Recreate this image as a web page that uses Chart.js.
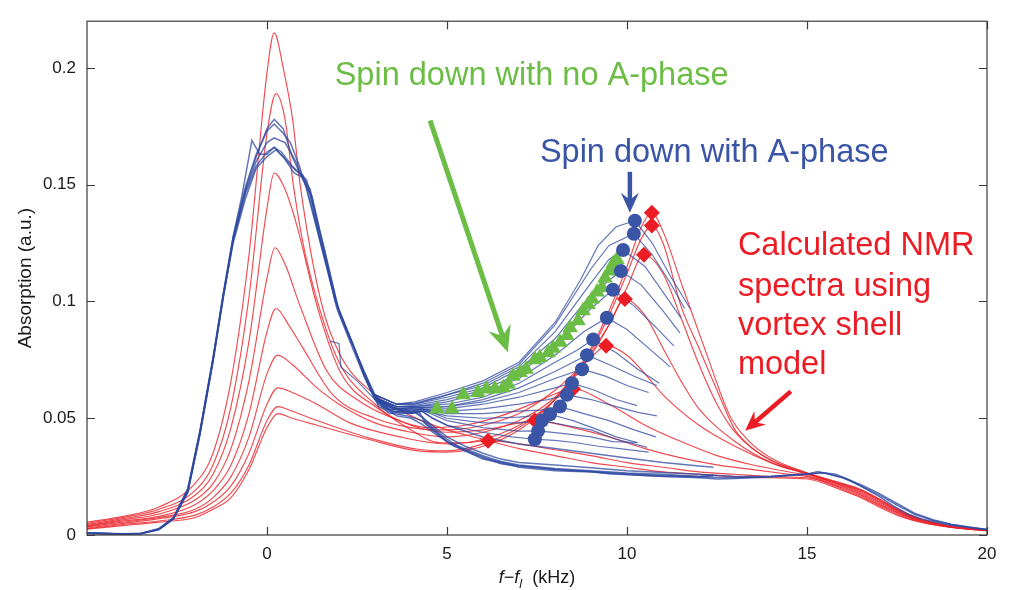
<!DOCTYPE html>
<html>
<head>
<meta charset="utf-8">
<script src="https://cdn.jsdelivr.net/npm/chart.js@4.4.1/dist/chart.umd.min.js"></script>
<style>
  html, body { margin: 0; padding: 0; background: #fff; }
  canvas { display: block; }
</style>
</head>
<body>
<canvas id="nmr" width="1009" height="590"></canvas>
<script>
(function () {
    "use strict";

    const FONT = '"Liberation Sans", Arial, Helvetica, sans-serif';

    // axis ticks
    const xTicks = [0, 5, 10, 15, 20];
    const yTicks = [0, 0.05, 0.1, 0.15, 0.2];
    const yTickLabels = ['0', '0.05', '0.1', '0.15', '0.2'];

    // calculated spectra (vortex shell model), [f-fl kHz, absorption]
    const calcSpectra = [
        [[-5,0.0055],[-4,0.008],[-3,0.012],[-2,0.022],[-1.5,0.035],[-1,0.066],[-0.5,0.12],[0,0.198],[0.2,0.215],[0.45,0.2],[0.72,0.177],[0.92,0.15],[1.5,0.1],[2,0.078],[3,0.06],[4,0.051],[5,0.045],[6,0.041],[7,0.037],[8,0.034],[9,0.031],[10,0.029],[11,0.027],[12,0.026],[13,0.025],[14,0.0245],[15,0.024],[16,0.019],[16.5,0.016],[17,0.012],[17.5,0.0085],[18,0.006],[19,0.0032],[20,0.0018]],
        [[-5,0.005],[-4,0.0075],[-3,0.011],[-2,0.019],[-1.5,0.03],[-1,0.055],[-0.5,0.102],[0,0.172],[0.25,0.189],[0.5,0.178],[0.73,0.15],[1,0.125],[1.4,0.1],[2,0.074],[3,0.056],[4,0.045],[4.8,0.0395],[5.5,0.0395],[6.14,0.0404],[7,0.039],[8,0.0365],[9,0.034],[10,0.031],[11,0.029],[12,0.027],[13,0.026],[14,0.025],[15,0.0245],[16,0.0195],[16.5,0.0165],[17,0.0125],[17.5,0.009],[18,0.0062],[19,0.0033],[20,0.0019]],
        [[-5,0.0045],[-4,0.007],[-3,0.01],[-2,0.017],[-1.5,0.026],[-1,0.046],[-0.5,0.083],[0,0.14],[0.2,0.155],[0.5,0.148],[0.83,0.1325],[1.39,0.098],[2.03,0.07],[3,0.055],[4,0.047],[5,0.044],[6,0.045],[7,0.048],[7.44,0.049],[8.5,0.046],[9.5,0.042],[10.5,0.037],[11.5,0.033],[12.5,0.03],[13.5,0.028],[14.5,0.026],[15,0.025],[16,0.02],[16.5,0.017],[17,0.013],[17.5,0.0095],[18,0.0065],[19,0.0034],[20,0.002]],
        [[-5,0.004],[-4,0.0065],[-3,0.009],[-2,0.015],[-1.5,0.022],[-1,0.037],[-0.5,0.066],[0,0.11],[0.22,0.123],[0.5,0.116],[0.92,0.098],[1.67,0.07],[2.5,0.058],[3.5,0.05],[4.5,0.046],[5.5,0.047],[6.5,0.051],[7.5,0.057],[8.5,0.0625],[9.5,0.056],[10.5,0.047],[11.5,0.04],[12.5,0.034],[13.5,0.03],[14.5,0.027],[15,0.0255],[16,0.0205],[16.5,0.0175],[17,0.0135],[17.5,0.0098],[18,0.0068],[19,0.0035],[20,0.002]],
        [[-5,0.0038],[-4,0.006],[-3,0.008],[-2,0.013],[-1.5,0.019],[-1,0.03],[-0.5,0.052],[0,0.087],[0.25,0.097],[0.6,0.09],[1,0.08],[1.83,0.06],[3,0.05],[4,0.046],[5,0.045],[6,0.047],[7,0.052],[8,0.062],[9,0.076],[9.42,0.081],[10,0.077],[10.5,0.069],[11,0.06],[12,0.047],[13,0.038],[14,0.031],[15,0.026],[16,0.021],[16.5,0.018],[17,0.014],[17.5,0.0102],[18,0.007],[19,0.0035],[20,0.002]],
        [[-5,0.0035],[-4,0.0055],[-3,0.0075],[-2,0.011],[-1.5,0.016],[-1,0.025],[-0.5,0.042],[0,0.069],[0.3,0.077],[0.7,0.073],[1.39,0.063],[2,0.056],[3,0.048],[4,0.044],[5,0.042],[6,0.044],[7,0.049],[8,0.059],[9,0.078],[9.5,0.09],[9.94,0.101],[10.5,0.094],[11,0.08],[11.5,0.066],[12,0.054],[13,0.04],[14,0.031],[15,0.0262],[16,0.0212],[16.5,0.0185],[17,0.0145],[17.5,0.0105],[18,0.0072],[19,0.0036],[20,0.0021]],
        [[-5,0.003],[-4,0.005],[-3,0.007],[-2,0.01],[-1.5,0.014],[-1,0.021],[-0.5,0.035],[0,0.056],[0.3,0.063],[0.7,0.061],[1.39,0.056],[2.3,0.048],[3.7,0.042],[5,0.039],[6,0.041],[7,0.047],[8,0.058],[9,0.077],[9.5,0.09],[10,0.106],[10.47,0.12],[11,0.112],[11.5,0.093],[12,0.073],[12.5,0.056],[13,0.044],[14,0.032],[15,0.0264],[16,0.0215],[16.5,0.019],[17,0.015],[17.5,0.0108],[18,0.0074],[19,0.0036],[20,0.0021]],
        [[-5,0.0027],[-4,0.0045],[-3,0.006],[-2,0.0085],[-1.5,0.012],[-1,0.018],[-0.5,0.03],[0,0.049],[0.3,0.055],[0.7,0.053],[1.39,0.049],[2.8,0.0417],[4.2,0.0367],[5,0.036],[6,0.039],[7,0.046],[8,0.058],[9,0.079],[9.5,0.094],[10,0.112],[10.4,0.127],[10.69,0.1325],[11,0.125],[11.5,0.098],[12,0.08],[12.5,0.062],[13,0.045],[13.5,0.037],[14,0.032],[15,0.0265],[16,0.0218],[16.5,0.0192],[17,0.0152],[17.5,0.011],[18,0.0075],[19,0.0037],[20,0.0022]],
        [[-5,0.0025],[-4,0.004],[-3,0.0055],[-2,0.0075],[-1.5,0.011],[-1,0.016],[-0.5,0.028],[0,0.046],[0.3,0.052],[0.7,0.05],[1.39,0.047],[2.8,0.041],[4.2,0.036],[5,0.0355],[6,0.038],[7,0.045],[8,0.058],[9,0.08],[9.5,0.096],[10,0.115],[10.4,0.132],[10.69,0.138],[11,0.13],[11.55,0.106],[12.2,0.078],[12.86,0.051],[13.4,0.04],[14,0.033],[15,0.0266],[16,0.022],[16.5,0.0195],[17,0.0155],[17.5,0.0112],[18,0.0077],[19,0.0038],[20,0.0022]]
    ];

    // measured spectra, whole sweep
    const measuredFull = [
        [[-5,0.0008],[-4.5,0.0006],[-4,0.0004],[-3.5,0.0006],[-3,0.0025],[-2.6,0.007],[-2.2,0.019],[-1.86,0.044],[-1.5,0.075],[-1.22,0.102],[-0.94,0.127],[-0.6,0.148],[-0.3,0.162],[0,0.174],[0.2,0.178],[0.45,0.174],[0.7,0.162],[1,0.152],[1.2,0.146],[1.45,0.128],[1.94,0.099],[2.3,0.085],[2.67,0.071],[2.94,0.061],[3.1,0.056],[3.4,0.052],[3.9,0.0535],[4.2,0.0535],[4.4,0.048],[5.08,0.039],[6,0.0335],[6.5,0.0305],[7,0.0295],[7.5,0.029],[8,0.028],[8.5,0.0275],[9,0.0272],[9.5,0.0262],[10,0.026],[10.5,0.0255],[11,0.025],[11.5,0.0248],[12,0.0245],[12.5,0.024],[13,0.0242],[13.5,0.0245],[14,0.0248],[14.5,0.0255],[15,0.026],[15.4,0.0268],[15.8,0.026],[16.2,0.0235],[16.6,0.02],[17,0.0165],[17.4,0.0125],[17.8,0.009],[18.2,0.0068],[18.6,0.0055],[19,0.0042],[19.5,0.0032],[20,0.0022]],
        [[-5,0.001],[-4.5,0.0007],[-4,0.0005],[-3.5,0.0007],[-3,0.0028],[-2.6,0.0075],[-2.2,0.02],[-1.86,0.045],[-1.5,0.076],[-1.22,0.103],[-0.94,0.128],[-0.7,0.145],[-0.42,0.169],[-0.2,0.163],[0,0.163],[0.2,0.166],[0.45,0.162],[0.75,0.155],[1,0.153],[1.2,0.148],[1.5,0.127],[1.94,0.097],[2.3,0.083],[2.67,0.069],[2.94,0.06],[3.1,0.055],[3.5,0.052],[3.9,0.051],[4.3,0.049],[4.6,0.045],[5,0.04],[5.5,0.037],[6,0.034],[6.5,0.0315],[7,0.03],[8,0.0285],[9,0.0275],[10,0.0265],[11,0.026],[12,0.025],[12.4,0.0255]],
        [[-5,0.0006],[-4.5,0.0005],[-4,0.0003],[-3.5,0.0005],[-3,0.0022],[-2.6,0.0068],[-2.2,0.018],[-1.86,0.043],[-1.5,0.074],[-1.22,0.101],[-0.94,0.126],[-0.6,0.146],[-0.3,0.158],[0,0.164],[0.2,0.166],[0.4,0.164],[0.7,0.158],[0.9,0.155],[1.1,0.152],[1.3,0.14],[1.6,0.122],[2,0.095],[2.4,0.081],[2.7,0.068],[3,0.058],[3.3,0.054],[3.7,0.052],[4.1,0.0525],[4.3,0.0505],[4.6,0.046],[5,0.041],[5.5,0.036],[6,0.0325],[7,0.029],[8,0.0275],[9,0.027],[10,0.0258],[11,0.0252],[12,0.0248],[13,0.0245],[14,0.025],[15,0.0262],[15.5,0.0265],[16,0.0245],[16.5,0.021],[17,0.0172],[17.5,0.0128],[18,0.0088],[18.5,0.0062],[19,0.0045],[19.5,0.0033],[20,0.0023]],
        [[-5,0.0009],[-4.5,0.0006],[-4,0.0004],[-3.5,0.0006],[-3,0.0026],[-2.6,0.0072],[-2.2,0.0195],[-1.86,0.0445],[-1.5,0.0755],[-1.22,0.1025],[-0.94,0.1275],[-0.6,0.149],[-0.3,0.163],[0,0.173],[0.2,0.176],[0.45,0.172],[0.65,0.168],[0.9,0.158],[1.1,0.148],[1.4,0.13],[1.9,0.1],[2.3,0.085],[2.6,0.073],[2.9,0.062],[3.2,0.055],[3.5,0.053],[4,0.052],[4.3,0.053],[4.6,0.05],[5,0.047],[6,0.042],[7,0.039],[8,0.037],[9,0.035],[10,0.033],[11,0.031],[12,0.0295],[12.4,0.029]],
        [[-5,0.0007],[-4.5,0.0005],[-4,0.0004],[-3.5,0.0006],[-3,0.0024],[-2.6,0.007],[-2.2,0.0185],[-1.86,0.0435],[-1.5,0.0745],[-1.22,0.1015],[-0.94,0.1265],[-0.6,0.147],[-0.3,0.16],[0,0.168],[0.2,0.17],[0.5,0.168],[0.8,0.16],[1.1,0.149],[1.4,0.131],[1.9,0.1],[2.3,0.084],[2.7,0.07],[3,0.06],[3.3,0.055],[3.8,0.054],[4.2,0.052],[4.5,0.048],[5,0.042],[5.5,0.038],[6,0.035],[6.5,0.0325],[7,0.031],[8,0.03],[9,0.0288],[10,0.0275],[11,0.0268],[12,0.026],[13,0.025],[14,0.0252],[15,0.026],[15.3,0.0272],[16,0.0245],[16.5,0.0215],[17,0.0178],[17.5,0.0135],[18,0.0092],[18.5,0.0065],[19,0.0046],[19.5,0.0034],[20,0.0024]],
        [[-5,0.0008],[-4.5,0.0006],[-4,0.0004],[-3.5,0.0006],[-3,0.0025],[-2.6,0.0071],[-2.2,0.019],[-1.86,0.044],[-1.5,0.075],[-1.22,0.102],[-0.94,0.125],[-0.6,0.144],[-0.3,0.157],[0,0.162],[0.25,0.165],[0.5,0.161],[0.8,0.156],[1,0.154],[1.25,0.145],[1.55,0.125],[2,0.096],[2.35,0.083],[2.7,0.069],[3,0.059],[3.3,0.0545],[3.6,0.051],[4,0.05],[4.3,0.0475],[4.7,0.043],[5.2,0.038],[6,0.033],[7,0.0295],[8,0.028],[9,0.0272],[10,0.0262],[11,0.0255],[12,0.025],[12.4,0.0255]]
    ];

    // measured spectra during spin down with A-phase (second-peak part)
    const measuredSpinDown = [
        [[1.75,0.083],[2,0.082],[2.05,0.072],[2.5,0.066],[3,0.058],[3.4,0.054],[4,0.0525],[4.3,0.053],[4.6,0.05],[5,0.047],[6,0.044],[6.8,0.042],[7.44,0.041],[8,0.0405],[8.6,0.0395],[9.2,0.038],[9.8,0.037],[10.6,0.0355]],
        [[3,0.058],[3.5,0.053],[4,0.052],[4.3,0.0535],[5,0.049],[6,0.046],[7,0.0445],[7.53,0.0446],[8.2,0.0435],[9,0.042],[9.6,0.04],[10.3,0.0396]],
        [[3,0.059],[3.5,0.054],[4,0.053],[4.3,0.054],[5,0.05],[6,0.048],[7,0.048],[7.64,0.049],[8.3,0.047],[9,0.045],[9.7,0.041],[10.56,0.0375]],
        [[3,0.059],[3.5,0.054],[4,0.0525],[4.4,0.053],[5,0.051],[6,0.05],[7,0.0505],[7.86,0.0517],[8.5,0.049],[9.2,0.045],[9.7,0.042],[10.28,0.0396]],
        [[3,0.058],[3.5,0.054],[4,0.053],[4.3,0.054],[5,0.052],[6,0.052],[7,0.053],[7.6,0.0535],[8.14,0.055],[8.8,0.052],[9.5,0.049],[10.2,0.045],[10.8,0.042]],
        [[3,0.059],[3.6,0.054],[4.1,0.054],[5,0.053],[6,0.054],[7,0.056],[7.8,0.058],[8.33,0.06],[9,0.058],[9.7,0.055],[10.3,0.0525],[10.83,0.051]],
        [[3,0.058],[3.6,0.054],[4.1,0.054],[5,0.054],[6,0.056],[7,0.059],[8,0.063],[8.47,0.065],[9.1,0.062],[9.7,0.058],[10.28,0.0554]],
        [[3,0.058],[3.6,0.054],[4.1,0.0545],[5,0.055],[6,0.057],[7,0.061],[8,0.067],[8.75,0.071],[9.4,0.068],[10,0.064],[10.6,0.061]],
        [[3,0.058],[3.6,0.055],[4.1,0.0545],[5,0.055],[6,0.058],[7,0.063],[8,0.07],[8.5,0.074],[8.89,0.077],[9.5,0.073],[10.2,0.068],[10.83,0.064]],
        [[3,0.059],[3.6,0.055],[4.1,0.055],[5,0.056],[6,0.059],[7,0.065],[8,0.074],[8.6,0.079],[9.06,0.0837],[9.7,0.078],[10.3,0.071],[10.9,0.065]],
        [[3,0.059],[3.6,0.055],[4.1,0.055],[5,0.057],[6,0.061],[7,0.067],[8,0.077],[8.8,0.087],[9.44,0.093],[10,0.088],[10.6,0.08],[11.2,0.072]],
        [[3,0.059],[3.6,0.055],[4.1,0.0555],[5,0.058],[6,0.062],[7,0.069],[8,0.081],[9,0.097],[9.61,0.105],[10.2,0.098],[10.8,0.089],[11.3,0.081]],
        [[3,0.06],[3.6,0.056],[4.1,0.056],[5,0.059],[6,0.063],[7,0.071],[8,0.084],[9,0.103],[9.83,0.113],[10.4,0.107],[11,0.096],[11.47,0.0865]],
        [[3,0.06],[3.6,0.056],[4.1,0.056],[5,0.06],[6,0.064],[7,0.072],[8,0.087],[9,0.108],[9.5,0.118],[9.89,0.122],[10.5,0.115],[11,0.104],[11.5,0.093]],
        [[3,0.06],[3.6,0.056],[4.1,0.0565],[5,0.06],[6,0.065],[7,0.073],[8,0.09],[9,0.114],[9.5,0.124],[10.19,0.129],[10.7,0.12],[11.2,0.108],[11.6,0.097]],
        [[3,0.06],[3.6,0.056],[4.1,0.057],[5,0.061],[6,0.066],[7,0.074],[8,0.091],[8.7,0.109],[9.2,0.124],[9.7,0.132],[10.22,0.1346],[10.7,0.125],[11.2,0.111],[11.75,0.097]]
    ];

    // peak markers
    const peaksWithAPhase = [[7.44,0.041],[7.53,0.0446],[7.64,0.049],[7.86,0.0517],[8.14,0.055],[8.33,0.06],[8.47,0.065],[8.75,0.071],[8.89,0.077],[9.06,0.0837],[9.44,0.093],[9.61,0.105],[9.83,0.113],[9.89,0.122],[10.19,0.129],[10.22,0.1346]];
    const peaksCalculated = [[6.14,0.0404],[7.44,0.049],[8.5,0.0625],[9.42,0.081],[9.94,0.101],[10.47,0.12],[10.69,0.1325],[10.69,0.138]];
    const peaksNoAPhase = [[4.72,0.054],[5.14,0.054],[5.45,0.06],[5.86,0.061],[6.1,0.0625],[6.33,0.0625],[6.56,0.063],[6.7,0.0646],[6.83,0.068],[7.03,0.0696],[7.2,0.071],[7.44,0.075],[7.58,0.076],[7.81,0.078],[7.95,0.08],[8.14,0.0825],[8.33,0.0854],[8.42,0.0887],[8.64,0.0917],[8.78,0.096],[8.92,0.0987],[9.03,0.101],[9.17,0.104],[9.3,0.106],[9.39,0.11],[9.53,0.113],[9.61,0.116],[9.72,0.118]];

    const colors = {
        red: 'rgba(236,34,42,0.82)',
        redMark: '#ec1c24',
        blue: 'rgba(45,72,160,0.75)',
        blueMark: '#3a55a5',
        green: '#6bbd45'
    };

    function toXY(pairs) {
        return pairs.map(p => ({ x: p[0], y: p[1] }));
    }

    const datasets = [];
    datasets.push({ data: toXY(peaksWithAPhase), showLine: false, pointStyle: 'circle', pointRadius: 7, backgroundColor: colors.blueMark, borderWidth: 0, order: 0 });
    datasets.push({ data: toXY(peaksCalculated), showLine: false, pointStyle: 'rectRot', pointRadius: 8, backgroundColor: colors.redMark, borderWidth: 0, order: 0 });
    datasets.push({ data: toXY(peaksNoAPhase), showLine: false, pointStyle: 'triangle', pointRadius: 9, backgroundColor: colors.green, borderWidth: 0, order: 0 });
    measuredSpinDown.forEach(s => {
        datasets.push({ data: toXY(s), showLine: true, pointRadius: 0, borderColor: colors.blue, borderWidth: 1.2, tension: 0, order: 1 });
    });
    measuredFull.forEach(s => {
        datasets.push({ data: toXY(s), showLine: true, pointRadius: 0, borderColor: colors.blue, borderWidth: 1.5, tension: 0, order: 1 });
    });
    calcSpectra.forEach(s => {
        datasets.push({ data: toXY(s), showLine: true, pointRadius: 0, borderColor: colors.red, borderWidth: 1.15, cubicInterpolationMode: 'monotone', order: 2 });
    });

    // annotation texts and arrows, in data units
    const labels = [
        { text: 'Spin down with no A-phase', x: 1.88, y: 0.1925, color: colors.green },
        { text: 'Spin down with A-phase', x: 7.58, y: 0.1598, color: colors.blueMark },
        { text: 'Calculated NMR', x: 13.08, y: 0.12, color: colors.redMark },
        { text: 'spectra using', x: 13.08, y: 0.1025, color: colors.redMark },
        { text: 'vortex shell', x: 13.08, y: 0.0858, color: colors.redMark },
        { text: 'model', x: 13.08, y: 0.0688, color: colors.redMark }
    ];
    const arrows = [
        { from: [4.53, 0.1775], to: [6.69, 0.0783], color: colors.green, width: 5, head: 26 },
        { from: [10.08, 0.1555], to: [10.08, 0.138], color: colors.blueMark, width: 4.5, head: 20 },
        { from: [14.55, 0.0615], to: [13.28, 0.0446], color: colors.redMark, width: 4.5, head: 20 }
    ];

    function drawArrow(ctx, x0, y0, x1, y1, color, width, head) {
        const len = Math.hypot(x1 - x0, y1 - y0);
        const ux = (x1 - x0) / len, uy = (y1 - y0) / len;
        const nx = -uy, ny = ux;
        const bx = x1 - ux * head, by = y1 - uy * head;
        ctx.save();
        ctx.strokeStyle = color;
        ctx.fillStyle = color;
        ctx.lineWidth = width;
        ctx.beginPath();
        ctx.moveTo(x0, y0);
        ctx.lineTo(x1 - ux * head * 0.6, y1 - uy * head * 0.6);
        ctx.stroke();
        ctx.beginPath();
        ctx.moveTo(x1, y1);
        ctx.lineTo(bx + nx * head * 0.45, by + ny * head * 0.45);
        ctx.lineTo(x1 - ux * head * 0.65, y1 - uy * head * 0.65);
        ctx.lineTo(bx - nx * head * 0.45, by - ny * head * 0.45);
        ctx.closePath();
        ctx.fill();
        ctx.restore();
    }

    const decorations = {
        id: 'decorations',
        afterDatasetsDraw(chart) {
            const ctx = chart.ctx;
            const a = chart.chartArea;
            const xs = chart.scales.x, ys = chart.scales.y;

            // frame with inward ticks
            ctx.save();
            ctx.strokeStyle = '#3a3a3a';
            ctx.lineWidth = 1.2;
            ctx.strokeRect(a.left, a.top, a.right - a.left, a.bottom - a.top);
            ctx.beginPath();
            xTicks.forEach(v => {
                const px = Math.round(xs.getPixelForValue(v)) + 0.5;
                ctx.moveTo(px, a.bottom); ctx.lineTo(px, a.bottom - 8);
                ctx.moveTo(px, a.top); ctx.lineTo(px, a.top + 8);
            });
            yTicks.forEach(v => {
                const py = Math.round(ys.getPixelForValue(v)) + 0.5;
                ctx.moveTo(a.left, py); ctx.lineTo(a.left + 8, py);
                ctx.moveTo(a.right, py); ctx.lineTo(a.right - 8, py);
            });
            ctx.stroke();
            ctx.restore();

            // axis titles
            ctx.save();
            ctx.fillStyle = '#1a1a1a';
            ctx.font = '19px ' + FONT;
            ctx.textAlign = 'center';
            ctx.textBaseline = 'middle';
            ctx.translate(26, (a.top + a.bottom) / 2);
            ctx.rotate(-Math.PI / 2);
            ctx.fillText('Absorption (a.u.)', 0, 0);
            ctx.restore();

            ctx.save();
            ctx.fillStyle = '#1a1a1a';
            ctx.textBaseline = 'alphabetic';
            const parts = [
                { t: 'f', f: 'italic 18px ' + FONT, dy: 0 },
                { t: '\u2212', f: '18px ' + FONT, dy: 0 },
                { t: 'f', f: 'italic 18px ' + FONT, dy: 0 },
                { t: 'l', f: 'italic 13px ' + FONT, dy: 5 },
                { t: '  (kHz)', f: '18px ' + FONT, dy: 0 }
            ];
            let total = 0;
            parts.forEach(p => { ctx.font = p.f; p.w = ctx.measureText(p.t).width; total += p.w; });
            let cx = (a.left + a.right) / 2 - total / 2;
            parts.forEach(p => { ctx.font = p.f; ctx.fillText(p.t, cx, 583 + p.dy); cx += p.w; });
            ctx.restore();

            // annotations
            ctx.save();
            ctx.font = '32.5px ' + FONT;
            ctx.textAlign = 'left';
            ctx.textBaseline = 'alphabetic';
            labels.forEach(l => {
                ctx.fillStyle = l.color;
                ctx.fillText(l.text, xs.getPixelForValue(l.x), ys.getPixelForValue(l.y));
            });
            ctx.restore();
            arrows.forEach(ar => {
                drawArrow(ctx,
                    xs.getPixelForValue(ar.from[0]), ys.getPixelForValue(ar.from[1]),
                    xs.getPixelForValue(ar.to[0]), ys.getPixelForValue(ar.to[1]),
                    ar.color, ar.width, ar.head);
            });
        }
    };

    new Chart(document.getElementById('nmr'), {
        type: 'scatter',
        data: { datasets },
        options: {
            responsive: false,
            animation: false,
            layout: { padding: { top: 7, right: 22, left: 0, bottom: 0 } },
            plugins: { legend: { display: false }, tooltip: { enabled: false } },
            scales: {
                x: {
                    type: 'linear', min: -5, max: 20,
                    afterBuildTicks: s => { s.ticks = xTicks.map(v => ({ value: v })); },
                    afterFit: s => { s.height = 55; },
                    grid: { display: false, drawTicks: false },
                    border: { display: false },
                    ticks: { padding: 9, color: '#1a1a1a', font: { size: 17, family: FONT }, maxRotation: 0, callback: v => String(v) }
                },
                y: {
                    type: 'linear', min: 0, max: 0.22,
                    afterBuildTicks: s => { s.ticks = yTicks.map(v => ({ value: v })); },
                    afterFit: s => { s.width = 87; },
                    grid: { display: false, drawTicks: false },
                    border: { display: false },
                    ticks: { padding: 11, color: '#1a1a1a', font: { size: 17, family: FONT }, callback: (v, i) => yTickLabels[i] }
                }
            }
        },
        plugins: [decorations]
    });
})();
</script>
</body>
</html>
